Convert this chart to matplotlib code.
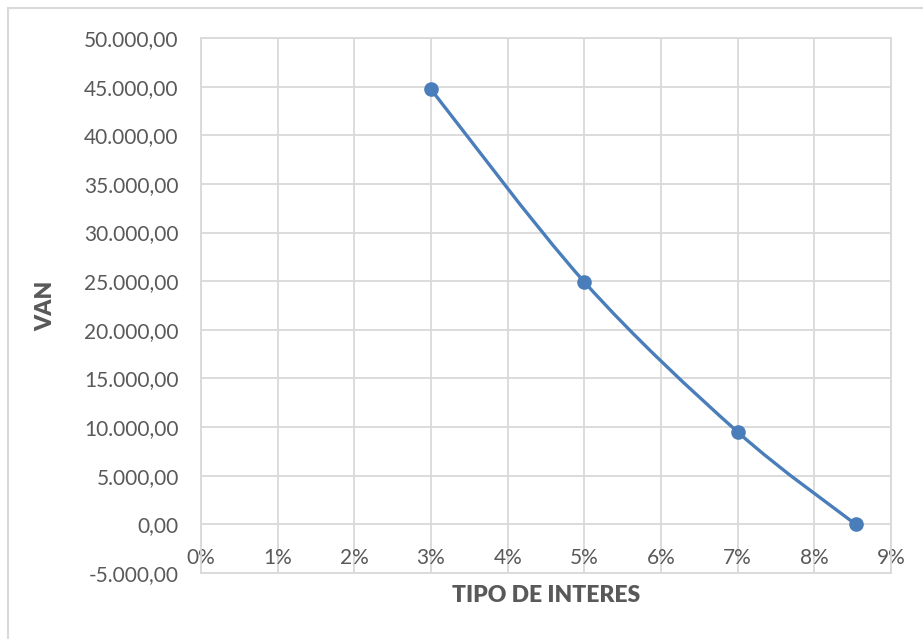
import matplotlib
matplotlib.use("Agg")
import matplotlib.pyplot as plt
from matplotlib.path import Path
from matplotlib.patches import PathPatch, Rectangle
from matplotlib.ticker import FuncFormatter, MultipleLocator
import numpy as np

# Net present value at several discount rates
tipos = [0.03, 0.05, 0.07, 0.0854]
van = [44720, 24920, 9500, 0]

x_ticks = [0.00, 0.01, 0.02, 0.03, 0.04, 0.05, 0.06, 0.07, 0.08, 0.09]
y_min, y_max, y_step = -5000, 50000, 5000

line_color = "#4a7ebb"
grid_color = "#d9d9d9"
text_color = "#595959"

plt.rcParams["font.family"] = ["Lato", "DejaVu Sans"]

W, H = 923, 639
fig = plt.figure(figsize=(W / 100, H / 100), dpi=100)
ax = fig.add_axes([201 / W, (H - 573) / H, 690 / W, 535 / H])

# Chart-area border
fig.patches.append(Rectangle((8 / W, -0.5), 2.0, 0.5 + (H - 8) / H,
                             transform=fig.transFigure, fill=False,
                             edgecolor=grid_color, linewidth=1.5))

ax.set_xlim(x_ticks[0], x_ticks[-1])
ax.set_ylim(y_min, y_max)
ax.set_xticks(x_ticks)
ax.yaxis.set_major_locator(MultipleLocator(y_step))


def fmt_es(v, pos):
    s = f"{abs(v):,.2f}".replace(",", "X").replace(".", ",").replace("X", ".")
    return ("-" if v < 0 else "") + s


ax.yaxis.set_major_formatter(FuncFormatter(fmt_es))
ax.xaxis.set_major_formatter(FuncFormatter(lambda v, p: f"{v * 100:.0f}%"))

ax.grid(True, color=grid_color, linewidth=1.3)
ax.set_axisbelow(True)
for sp in ax.spines.values():
    sp.set_color(grid_color)
    sp.set_linewidth(1.3)

ax.tick_params(axis="both", length=0, labelsize=15, colors=text_color)
ax.tick_params(axis="y", pad=16)
ax.tick_params(axis="x", pad=-18)

# Smoothed line (Catmull-Rom style Bezier segments through the points)
pts = np.column_stack([tipos, van]).astype(float)
ext = np.vstack([pts[0], pts, pts[-1]])
verts = [tuple(pts[0])]
codes = [Path.MOVETO]
for i in range(len(pts) - 1):
    p0, p1, p2, p3 = ext[i], ext[i + 1], ext[i + 2], ext[i + 3]
    c1 = p1 + (p2 - p0) / 6.0
    c2 = p2 - (p3 - p1) / 6.0
    verts += [tuple(c1), tuple(c2), tuple(p2)]
    codes += [Path.CURVE4] * 3
ax.add_patch(PathPatch(Path(verts, codes), fill=False, edgecolor=line_color,
                       linewidth=2.4, capstyle="round", joinstyle="round", zorder=3))
ax.plot(tipos, van, linestyle="none", marker="o", markersize=9.5,
        color=line_color, zorder=4, clip_on=False)

ax.set_xlabel("TIPO DE INTERES", fontsize=16.5, fontweight="heavy",
              color=text_color, labelpad=9)
ax.set_ylabel("VAN", fontsize=16.5, fontweight="heavy", color=text_color, labelpad=20)

fig.savefig("out.png", dpi=100, facecolor="white")
